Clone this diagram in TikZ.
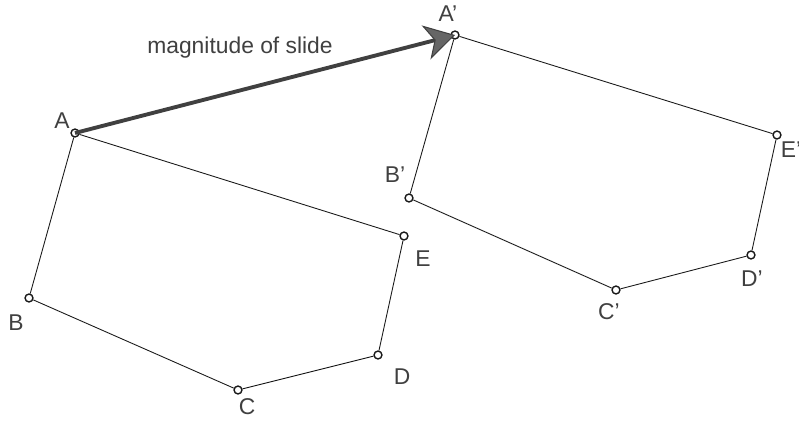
\documentclass[tikz,border=0pt]{standalone}
\usepackage{fontspec}
\setmainfont{Liberation Sans}
\usetikzlibrary{arrows.meta}

\begin{document}
\begin{tikzpicture}[x=0.02cm, y=-0.02cm]
            \tikzstyle{every node}=[font=\fontsize{13}{15}\selectfont, text=black!75]
            \tikzstyle{vertex}=[circle, draw=black!90, fill=white, inner sep=0pt, minimum size=4.5pt, line width=0.8pt]
            \tikzstyle{side}=[line width=0.5pt, black!90]
            \tikzstyle{slide}=[line width=2.2pt, black!75, -{Stealth[length=17pt, width=20pt, inset=5pt, fill=black!60, line width=0.6pt]}]
            \useasboundingbox (0,0) rectangle (799,420);

            % Original polygon
            \node[vertex] (A) at (75,133) {};
            \node[vertex] (B) at (29,298) {};
            \node[vertex] (C) at (238,390) {};
            \node[vertex] (D) at (378,355) {};
            \node[vertex] (E) at (404,236) {};
            \draw[side] (A) -- (B) -- (C) -- (D) -- (E) -- (A);
            \node (lA) at (62,121) {A};
            \node (lB) at (16,323) {B};
            \node (lC) at (247,407) {C};
            \node (lD) at (402,377) {D};
            \node (lE) at (423,259) {E};

            % Image after the slide
            \node[vertex] (Ap) at (455,35) {};
            \node[vertex] (Bp) at (409,198) {};
            \node[vertex] (Cp) at (616,290) {};
            \node[vertex] (Dp) at (751,255) {};
            \node[vertex] (Ep) at (777,135) {};
            \draw[side] (Ap) -- (Bp) -- (Cp) -- (Dp) -- (Ep) -- (Ap);
            \node (lAp) at (448,14) {A'};
            \node (lBp) at (395,175) {B'};
            \node (lCp) at (609,312) {C'};
            \node (lDp) at (752,279) {D'};
            \node (lEp) at (791,150) {E'};

            % Slide vector
            \draw[slide] (A.center) -- (Ap.center);
            \node (mag) at (240,48) {magnitude of slide};
\end{tikzpicture}
\end{document}
